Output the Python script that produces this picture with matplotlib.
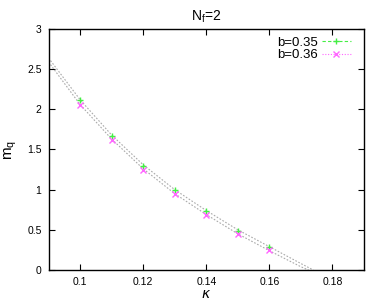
import matplotlib
matplotlib.use('Agg')
import matplotlib.pyplot as plt
from matplotlib.lines import Line2D

plt.rcParams['font.family'] = ['Liberation Sans', 'DejaVu Sans']

# data points
kappa = [0.10, 0.11, 0.12, 0.13, 0.14, 0.15, 0.16]
mq_035 = [2.11, 1.67, 1.30, 0.99, 0.73, 0.49, 0.29]
mq_036 = [2.05, 1.62, 1.25, 0.94, 0.685, 0.45, 0.245]

# fit curves
fit_k_035 = [0.09, 0.10, 0.11, 0.12, 0.13, 0.14, 0.15, 0.16, 0.17, 0.1739]
fit_m_035 = [2.64, 2.12, 1.68, 1.31, 1.00, 0.74, 0.50, 0.29, 0.08, 0.0]
fit_k_036 = [0.09, 0.10, 0.11, 0.12, 0.13, 0.14, 0.15, 0.16, 0.17, 0.1724]
fit_m_036 = [2.59, 2.06, 1.63, 1.26, 0.95, 0.69, 0.45, 0.24, 0.04, 0.0]

green = '#44ee44'
pink = '#ff66ff'

fig = plt.figure(figsize=(3.82, 3.02), dpi=100)
ax = fig.add_axes([0.127, 0.106, 0.826, 0.798])

ax.plot(fit_k_035, fit_m_035, color='#aaaaaa', lw=0.8, ls=(0, (1.5, 1.5)))
ax.plot(fit_k_036, fit_m_036, color='#aaaaaa', lw=0.8, ls=(0, (1.5, 1.5)))
ax.plot(kappa, mq_035, ls='none', marker='+', ms=5, mew=1.0, color=green)
ax.plot(kappa, mq_036, ls='none', marker='x', ms=4, mew=1.0, color=pink)

ax.set_xlim(0.09, 0.19)
ax.set_ylim(0, 3)
ax.set_xticks([0.1, 0.12, 0.14, 0.16, 0.18])
ax.set_xticklabels(['0.1', '0.12', '0.14', '0.16', '0.18'])
ax.set_yticks([0, 0.5, 1, 1.5, 2, 2.5, 3])
ax.set_yticklabels(['0', '0.5', '1', '1.5', '2', '2.5', '3'])
ax.tick_params(direction='in', top=True, right=True, length=4, width=0.8,
               labelsize=7.5, pad=5)
for s in ax.spines.values():
    s.set_linewidth(1.0)

ax.set_xlabel(r'$\kappa$', fontsize=10, labelpad=0)
ax.set_ylabel(r'm$_\mathregular{q}$', fontsize=11, labelpad=6)
ax.set_title(r'N$_\mathregular{f}$=2', fontsize=10, pad=6)

handles = [
    Line2D([], [], color=green, ls=(0, (3, 2)), lw=0.8, marker='+', ms=5),
    Line2D([], [], color=pink, ls=(0, (1, 1.5)), lw=0.8, marker='x', ms=4),
]
leg = ax.legend(handles, ['b=0.35', 'b=0.36'], loc='upper right',
                frameon=False, fontsize=9.5, markerfirst=False,
                handlelength=2.2, handletextpad=0.3, labelspacing=0.0,
                borderaxespad=0.0, bbox_to_anchor=(0.975, 0.99))

fig.savefig('out.png', dpi=100)
